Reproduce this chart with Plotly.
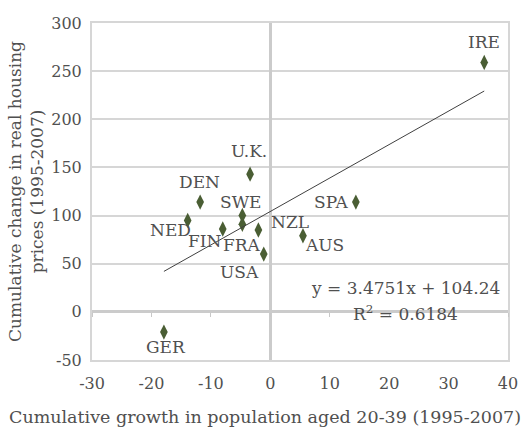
import plotly.graph_objects as go

countries = ["IRE", "SPA", "AUS", "NZL", "U.K.", "DEN", "SWE", "FRA", "NED", "FIN", "USA", "GER"]
pop_growth = [36.0, 14.4, 5.5, -2.0, -3.4, -11.8, -4.7, -4.7, -13.9, -8.0, -1.1, -17.9]
house_price = [259, 114, 79, 85, 143, 114, 100, 91, 95, 86, 60, -21]
# label offsets in px (dx right, dy down) relative to each point
label_dx = [0, -24, 22, 32, -1, -1, -1, 0, -17, -18, -24, 2]
label_dy = [-20, 0, 9, -8, -23, -20, -14, 21, 10, 12, 18, 15]

slope = 3.4751
intercept = 104.24
eq_text = "y = 3.4751x + 104.24"
r2_text = "R<sup>2</sup> = 0.6184"

x_ticks = [-30, -20, -10, 0, 10, 20, 30, 40]
x_tick_labels = ["-30", "-20", "-10", "0", "10", "20", "30", "40"]
y_ticks = [-50, 0, 50, 100, 150, 200, 250, 300]
y_tick_labels = ["-50", "0", "50", "100", "150", "200", "250", "300"]

x_title = "Cumulative growth in population aged 20-39 (1995-2007)"
y_title = "Cumulative change in real housing<br>prices (1995-2007)"

FONT = "DejaVu Serif"
TXT = "#505050"
GRID = "#d6d6d6"

fig = go.Figure()

xmin, xmax = min(pop_growth), max(pop_growth)
fig.add_trace(go.Scatter(
    x=[xmin, xmax], y=[slope * xmin + intercept, slope * xmax + intercept],
    mode="lines", line=dict(color="#404040", width=1), xaxis="x2", yaxis="y",
    hoverinfo="skip", showlegend=False))

fig.add_trace(go.Scatter(
    x=pop_growth, y=house_price, mode="markers",
    marker=dict(symbol="diamond-tall", size=11, color="#4a5e34"),
    showlegend=False))

for c, x, y, dx, dy in zip(countries, pop_growth, house_price, label_dx, label_dy):
    fig.add_annotation(x=x, y=y, text=c, showarrow=False, xshift=dx, yshift=-dy,
                       xanchor="center", yanchor="middle",
                       font=dict(family=FONT, size=17, color=TXT))

fig.add_annotation(x=0.754, y=0.214, xref="paper", yref="paper", text=eq_text,
                   showarrow=False, xanchor="center", yanchor="middle",
                   font=dict(family=FONT, size=17, color=TXT))
fig.add_annotation(x=0.754, y=0.139, xref="paper", yref="paper", text=r2_text,
                   showarrow=False, xanchor="center", yanchor="middle",
                   font=dict(family=FONT, size=17, color=TXT))

fig.add_annotation(x=0.416, y=-0.169, xref="paper", yref="paper", text=x_title,
                   showarrow=False, xanchor="center", yanchor="middle",
                   font=dict(family=FONT, size=17.5, color=TXT))

fig.update_layout(
    width=526, height=428,
    margin=dict(l=92, r=18, t=23, b=68),
    paper_bgcolor="white", plot_bgcolor="white",
    font=dict(family=FONT, color=TXT, size=16),
    xaxis=dict(range=[-30, 40], tickvals=x_ticks, ticktext=x_tick_labels,
               showgrid=False, automargin=False,
               zeroline=True, zerolinecolor="#cbcbcb", zerolinewidth=3,
               showline=True, mirror=True, linecolor=GRID, linewidth=2,
               ticks="", ticklabelstandoff=8,
               tickfont=dict(family=FONT, size=16, color=TXT)),
    xaxis2=dict(range=[-30, 40], tickvals=x_ticks, overlaying="x", anchor="free",
                position=50 / 350, showgrid=False, zeroline=False, showline=False,
                ticks="outside", ticklen=4, tickwidth=1, tickcolor="#c8c8c8",
                showticklabels=False, automargin=False),
    yaxis=dict(range=[-50, 300], tickvals=y_ticks, ticktext=y_tick_labels,
               showgrid=True, gridcolor=GRID, automargin=False,
               gridwidth=1.5, zeroline=True, zerolinecolor="#cbcbcb", zerolinewidth=3,
               showline=True, mirror=True, linecolor=GRID, linewidth=2,
               ticks="", ticklabelstandoff=5,
               tickfont=dict(family=FONT, size=16, color=TXT),
               title=dict(text=y_title,
                          font=dict(family=FONT, size=17, color=TXT), standoff=3)),
)

fig.write_html("out.html")
